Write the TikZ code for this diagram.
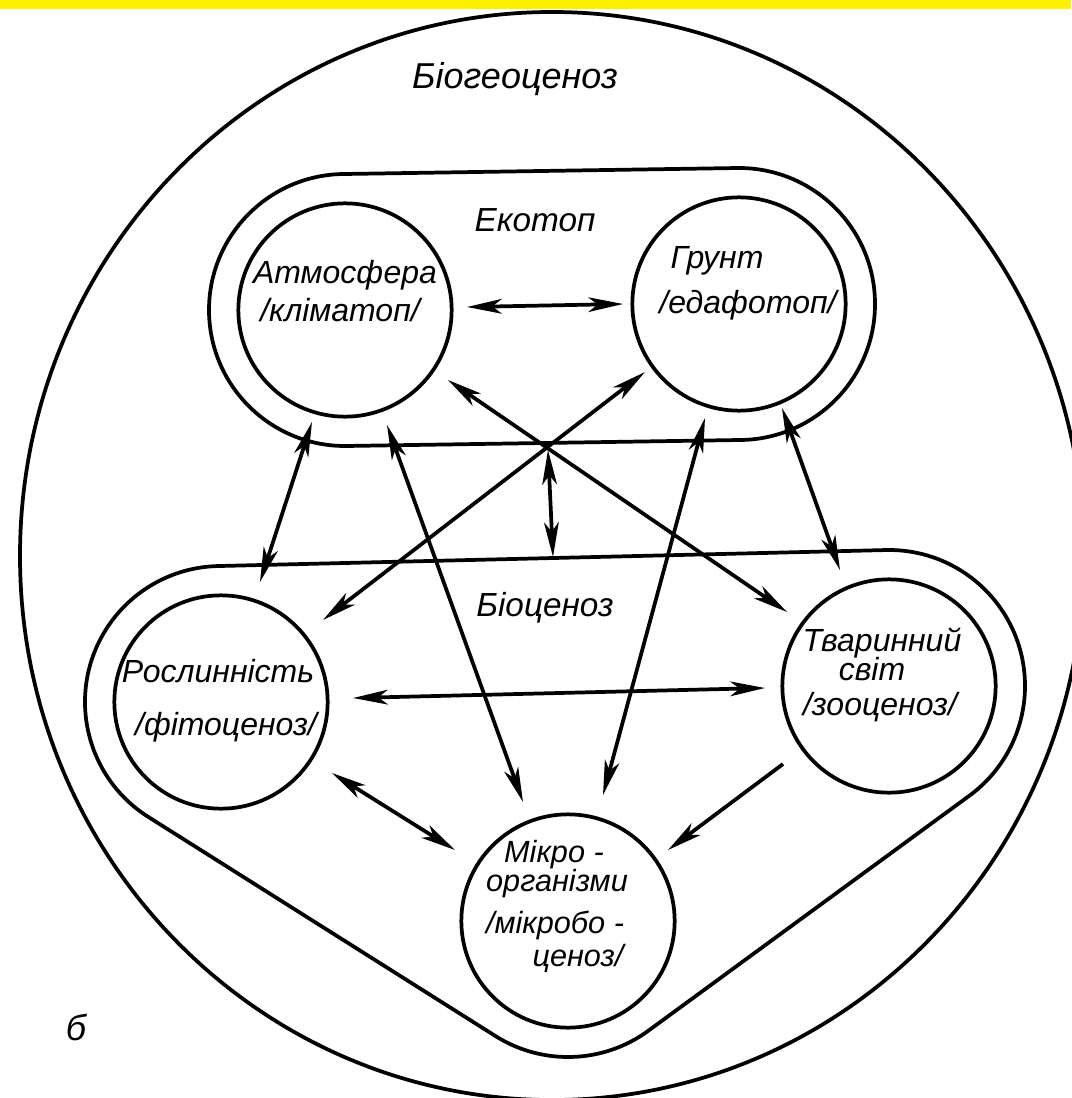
\documentclass[tikz,border=0pt]{standalone}
\usepackage{fontspec}
\setmainfont{Liberation Sans}
\usetikzlibrary{arrows.meta}
\begin{document}
\begin{tikzpicture}[x=0.75pt,y=-0.75pt,
  >={Stealth[length=26pt,width=11pt,inset=7pt]},
  ln/.style={line width=2.8pt},
  two/.style={ln,<->},
  one/.style={ln,->},
  inner/.style={circle,draw,line width=2.8pt,minimum size=160pt,inner sep=0pt},
  lbl/.style={font=\itshape\fontsize{24}{28}\selectfont,anchor=base,inner sep=0pt},
  mlbl/.style={font=\itshape\fontsize{23}{26}\selectfont,anchor=base,inner sep=0pt},
  big/.style={font=\itshape\fontsize{25}{30}\selectfont,anchor=base,inner sep=0pt},
  huge/.style={font=\itshape\fontsize{27}{32}\selectfont,anchor=base,inner sep=0pt}]
\useasboundingbox (0,0) rectangle (1071,1098);
\fill[white] (0,0) rectangle (1071,1098);

% outer biogeocenosis circle
\draw[ln] (552,556) ellipse [x radius=532, y radius=544];

% inner circles
\node[inner] (atm)   at (345,310) {};
\node[inner] (grunt) at (739,304) {};
\node[inner] (rosl)  at (221,702) {};
\node[inner] (tvar)  at (889,686) {};
\node[inner] (mikro) at (568,921) {};

% Ekotop hull
\draw[ln] ([shift={(-90.872:136)}]atm.center) -- ([shift={(-90.872:136)}]grunt.center)
  arc[start angle=-90.872, end angle=89.128, radius=136]
  -- ([shift={(89.128:136)}]atm.center)
  arc[start angle=89.128, end angle=269.128, radius=136] -- cycle;

% Biocenosis hull
\draw[ln] ([shift={(-91.372:136)}]rosl.center) -- ([shift={(-91.372:136)}]tvar.center)
  arc[start angle=-91.372, end angle=53.80, radius=136]
  -- ([shift={(53.80:136)}]mikro.center)
  arc[start angle=53.80, end angle=122.25, radius=136]
  -- ([shift={(122.25:136)}]rosl.center)
  arc[start angle=122.25, end angle=268.628, radius=136] -- cycle;

% coordinates for the ekotop-biocenosis link
\coordinate (ekob) at (548,450);
\coordinate (biot) at (553,557);

% connectors
\draw[two] ([shift={(122,-3)}]atm.center) -- ([shift={(-116,0)}]grunt.center);
\draw[two] ([shift={(-33,112)}]atm.center) -- ([shift={(39,-120)}]rosl.center);
\draw[two] ([shift={(42,115)}]atm.center) -- ([shift={(-45,-119)}]mikro.center);
\draw[two] ([shift={(103,70)}]atm.center) -- ([shift={(-102,-74)}]tvar.center);
\draw[two] ([shift={(-94,68)}]grunt.center) -- ([shift={(102,-82)}]rosl.center);
\draw[two] ([shift={(-34,114)}]grunt.center) -- ([shift={(35,-126)}]mikro.center);
\draw[two] ([shift={(43,104)}]grunt.center) -- ([shift={(-49,-116)}]tvar.center);
\draw[two] (ekob) -- (biot);
\draw[two] ([shift={(132,-4)}]rosl.center) -- ([shift={(-124,2)}]tvar.center);
\draw[two] ([shift={(111,71)}]rosl.center) -- ([shift={(-113,-71)}]mikro.center);
\draw[one] ([shift={(-106,78)}]tvar.center) -- ([shift={(100,-71)}]mikro.center);

% labels
\node[huge] (lbgc) at (515,89) {Біогеоценоз};
\node[big] (leko) at (535,232) {Екотоп};
\node[big] (lbio) at (545,616) {Біоценоз};
\node[lbl] (latm1) at (345,283) {Атмосфера};
\node[lbl] (latm2) at (340,321) {/кліматоп/};
\node[lbl] (lgr1) at (717,268) {Грунт};
\node[lbl] (lgr2) at (748,313) {/едафотоп/};
\node[lbl] (lro1) at (218,682) {Рослинність};
\node[lbl] (lro2) at (226,735) {/фітоценоз/};
\node[lbl] (ltv1) at (882,651) {Тваринний};
\node[lbl] (ltv2) at (872,680) {світ};
\node[lbl] (ltv3) at (880,715) {/зооценоз/};
\node[mlbl] (lmi1) at (554,862) {Мікро -};
\node[mlbl] (lmi2) at (557,891) {організми};
\node[mlbl] (lmi3) at (555,933) {/мікробо -};
\node[mlbl] (lmi4) at (578,966) {ценоз/};
\node[huge] (lb) at (76,1040) {б};

% yellow band
\fill[yellow] (0,0) rectangle (1071,9);
\end{tikzpicture}
\end{document}
